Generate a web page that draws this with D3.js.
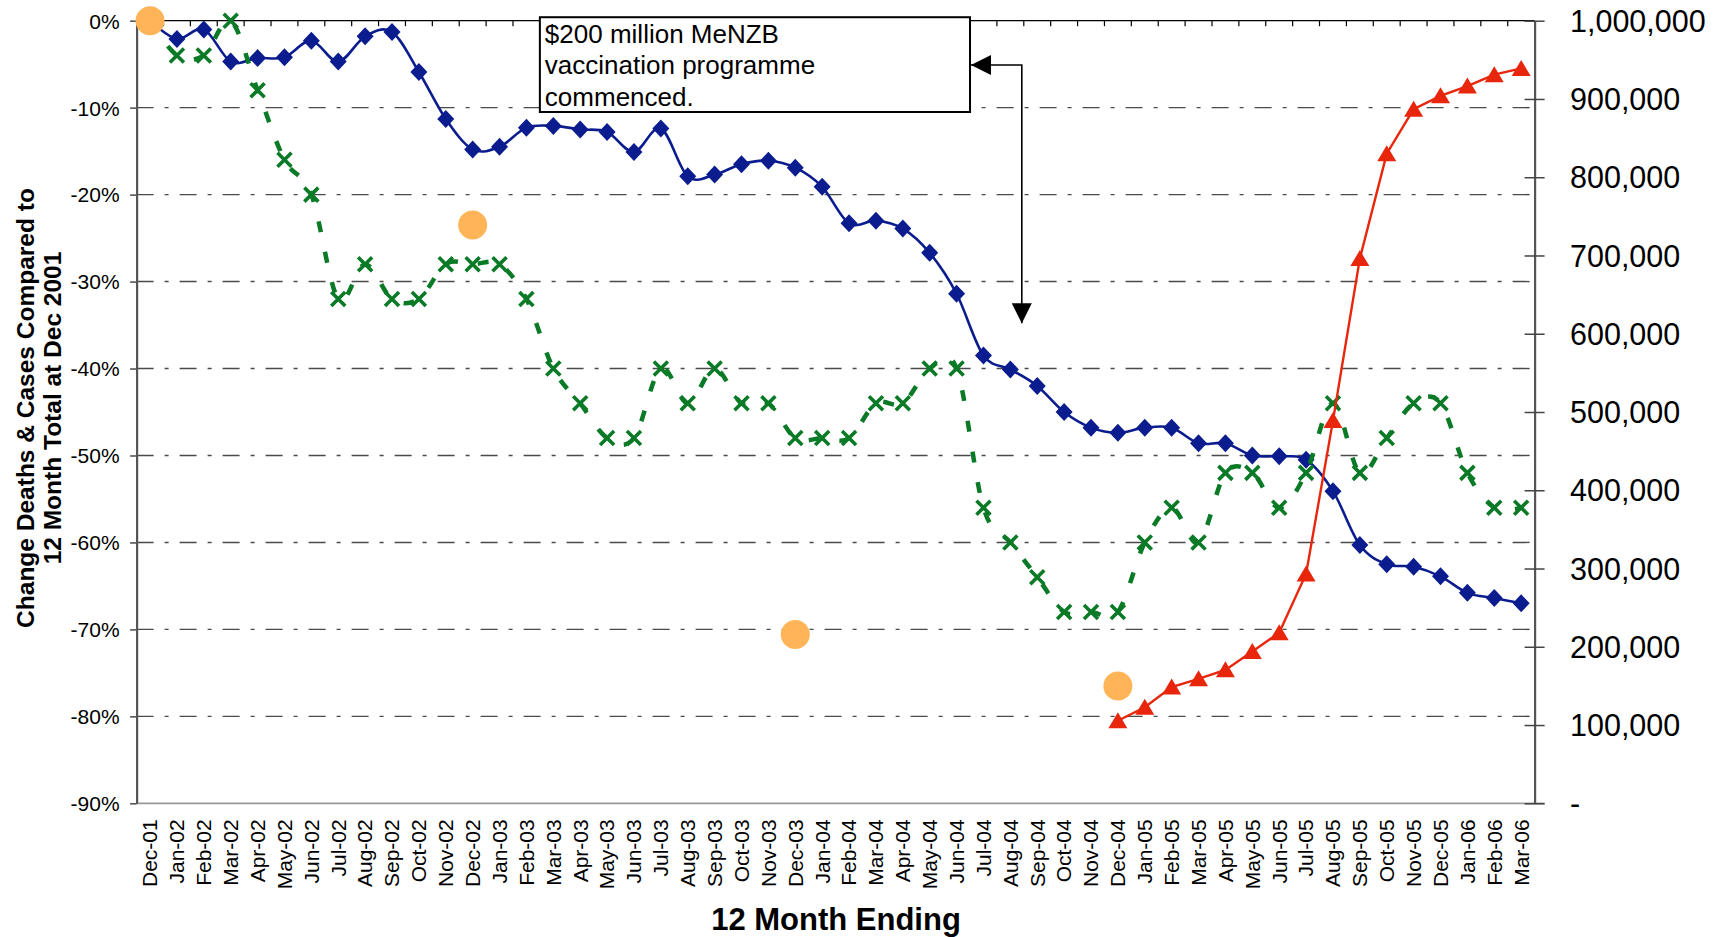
<!DOCTYPE html>
<html><head><meta charset="utf-8">
<script src="https://cdn.jsdelivr.net/npm/d3@7"></script>
<style>
body{margin:0;background:#fff;}
svg{display:block;font-family:"Liberation Sans",Arial,Helvetica,sans-serif;}
</style>
</head><body>
<svg id="chart" width="1719" height="937"></svg>
<script>
// ---------------- DATA ----------------
const categories = ["Dec-01","Jan-02","Feb-02","Mar-02","Apr-02","May-02","Jun-02","Jul-02","Aug-02","Sep-02","Oct-02","Nov-02",
  "Dec-02","Jan-03","Feb-03","Mar-03","Apr-03","May-03","Jun-03","Jul-03","Aug-03","Sep-03","Oct-03","Nov-03",
  "Dec-03","Jan-04","Feb-04","Mar-04","Apr-04","May-04","Jun-04","Jul-04","Aug-04","Sep-04","Oct-04","Nov-04",
  "Dec-04","Jan-05","Feb-05","Mar-05","Apr-05","May-05","Jun-05","Jul-05","Aug-05","Sep-05","Oct-05","Nov-05",
  "Dec-05","Jan-06","Feb-06","Mar-06"];

// change in cases vs Dec 2001 (%), blue diamonds
const casesChange = [0,-2.1,-1.0,-4.7,-4.3,-4.2,-2.3,-4.7,-1.8,-1.3,-5.9,-11.3,
  -14.8,-14.5,-12.3,-12.1,-12.5,-12.8,-15.1,-12.4,-17.9,-17.7,-16.5,-16.1,
  -16.9,-19.1,-23.3,-23.0,-23.9,-26.7,-31.4,-38.5,-40.1,-42.0,-45.0,-46.8,
  -47.4,-46.8,-46.8,-48.6,-48.6,-50.0,-50.1,-50.5,-54.1,-60.3,-62.5,-62.8,
  -63.9,-65.8,-66.4,-67.0];

// change in deaths vs Dec 2001 (%), green crosses
const deathsChange = [0,-4,-4,0,-8,-16,-20,-32,-28,-32,-32,-28,
  -28,-28,-32,-40,-44,-48,-48,-40,-44,-40,-44,-44,
  -48,-48,-48,-44,-44,-40,-40,-56,-60,-64,-68,-68,
  -68,-60,-56,-60,-52,-52,-56,-52,-44,-52,-48,-44,
  -44,-52,-56,-56];

// people vaccinated (right axis), red triangles
const vaccinated = [null,null,null,null,null,null,null,null,null,null,null,null,
  null,null,null,null,null,null,null,null,null,null,null,null,
  null,null,null,null,null,null,null,null,null,null,null,null,
  105500,122700,148500,159000,170500,194000,218000,293000,489000,696000,830000,887000,
  904000,916500,931000,939000];

// year-end highlight points (%), orange circles
const yearEndPoints = [0,null,null,null,null,null,null,null,null,null,null,null,
  -23.5,null,null,null,null,null,null,null,null,null,null,null,
  -70.6,null,null,null,null,null,null,null,null,null,null,null,
  -76.5,null,null,null,null,null,null,null,null,null,null,null,
  null,null,null,null];

const leftTicks = [0,-10,-20,-30,-40,-50,-60,-70,-80,-90];
const rightTicks = [0,100000,200000,300000,400000,500000,600000,700000,800000,900000,1000000];
const annotationLines = ["$200 million MeNZB","vaccination programme","commenced."];
const yTitleLines = ["Change Deaths & Cases Compared to","12 Month Total at Dec 2001"];
const xTitle = "12 Month Ending";

// annotation placement in data units
const annBoxFrom = "Mar-03", annBoxTo = "Jul-04", annBoxTop = 0.4, annBoxBottom = -10.5;
const annArrowAt = "Sep-04", annArrowY = -5.1, annArrowTip = -34.8;

// ---------------- LAYOUT ----------------
const svg = d3.select("#chart");
const m = {left:136.6, right:1534.6, top:20.7, bottom:803.3};

const x = d3.scaleBand().domain(categories).range([m.left, m.right]).padding(0);
const xc = c => x(c) + x.bandwidth()/2;
const yL = d3.scaleLinear().domain([-90, 0]).range([m.bottom, m.top]);
const yR = d3.scaleLinear().domain([0, 1000000]).range([m.bottom, m.top]);

const defs = svg.append("defs");
defs.append("marker").attr("id","ah")
  .attr("viewBox","0 0 20 20").attr("refX",20).attr("refY",10)
  .attr("markerWidth",20).attr("markerHeight",20)
  .attr("markerUnits","userSpaceOnUse").attr("orient","auto-start-reverse")
  .append("path").attr("d","M0,0 L20,10 L0,20 Z").attr("fill","#000");

// gridlines
svg.append("g").selectAll("line")
  .data(leftTicks.filter(t => t !== 0 && t !== -90))
  .join("line")
  .attr("x1", m.left).attr("x2", m.right)
  .attr("y1", d => yL(d)).attr("y2", d => yL(d))
  .attr("stroke","#4a4a4a").attr("stroke-width",1.4)
  .attr("stroke-dasharray","17,11,4,11");

// top border with inward ticks at category boundaries
const topG = svg.append("g");
topG.append("line").attr("x1",m.left).attr("x2",m.right).attr("y1",m.top).attr("y2",m.top)
  .attr("stroke","#000").attr("stroke-width",1.3);
topG.selectAll("line.tk").data(categories.slice(1)).join("line").attr("class","tk")
  .attr("x1", d => x(d)).attr("x2", d => x(d))
  .attr("y1", m.top).attr("y2", m.top + 5.5)
  .attr("stroke","#000").attr("stroke-width",1.2);

// bottom axis
const xAxis = svg.append("g").attr("transform",`translate(0,${m.bottom})`)
  .call(d3.axisBottom(x).tickSize(0).tickSizeOuter(0));
xAxis.select(".domain").remove();
xAxis.append("line").attr("x1",m.left).attr("x2",m.right+10).attr("y1",0).attr("y2",0)
  .attr("stroke","#999").attr("stroke-width",1.8);
xAxis.selectAll(".tick text")
  .attr("transform","rotate(-90)")
  .attr("x",-16).attr("y",0).attr("dy","0.35em")
  .attr("text-anchor","end")
  .attr("font-size",21).attr("fill","#000")
  .attr("font-family","'Liberation Sans',Arial,sans-serif");

// left axis
const yAxisL = svg.append("g").attr("transform",`translate(${m.left},0)`)
  .call(d3.axisLeft(yL).tickValues(leftTicks).tickSize(6.5).tickSizeOuter(0).tickPadding(10.5)
    .tickFormat(d => d + "%"));
yAxisL.select(".domain").attr("stroke","#555").attr("stroke-width",2.2);
yAxisL.selectAll(".tick line").attr("stroke","#555").attr("stroke-width",1.6);
yAxisL.selectAll(".tick text").attr("font-size",21).attr("fill","#000")
  .attr("font-family","'Liberation Sans',Arial,sans-serif").attr("dy","0.35em");

// right axis
const yAxisR = svg.append("g").attr("transform",`translate(${m.right},0)`)
  .call(d3.axisRight(yR).tickValues(rightTicks).tickSize(10).tickSizeOuter(0).tickPadding(25.4)
    .tickFormat(d => d === 0 ? "-" : d3.format(",")(d)));
yAxisR.select(".domain").attr("stroke","#555").attr("stroke-width",2.2);
yAxisR.selectAll(".tick line").attr("x1",-10).attr("stroke","#444").attr("stroke-width",1.5);
yAxisR.selectAll(".tick text").attr("font-size",30.5).attr("fill","#000")
  .attr("font-family","'Liberation Sans',Arial,sans-serif").attr("dy","0.35em");

// axis titles
const yt = svg.append("g").attr("font-weight","bold").attr("font-size",24.5).attr("fill","#000");
yTitleLines.forEach((t,i) => {
  yt.append("text").attr("transform",`translate(${34 + i*27},408) rotate(-90)`)
    .attr("text-anchor","middle").text(t);
});
svg.append("text").attr("x",836).attr("y",930).attr("text-anchor","middle")
  .attr("font-weight","bold").attr("font-size",31).attr("fill","#000").text(xTitle);

// annotation box
const bx0 = x(annBoxFrom), bx1 = x(annBoxTo), by0 = yL(annBoxTop), by1 = yL(annBoxBottom);
svg.append("rect").attr("x",bx0).attr("y",by0).attr("width",bx1-bx0).attr("height",by1-by0)
  .attr("fill","#fff").attr("stroke","#000").attr("stroke-width",2);
const annT = svg.append("g").attr("font-size",26).attr("fill","#000");
annotationLines.forEach((t,i) => {
  annT.append("text").attr("x",bx0+5).attr("y",by0+25.5+i*31.7).text(t);
});
const ax = x(annArrowAt) - 2;
svg.append("path")
  .attr("d",`M${bx1+1},${yL(annArrowY)} L${ax},${yL(annArrowY)} L${ax},${yL(annArrowTip)}`)
  .attr("fill","none").attr("stroke","#000").attr("stroke-width",1.6)
  .attr("marker-start","url(#ah)").attr("marker-end","url(#ah)");

// ---------------- SERIES ----------------
const smooth = d3.curveCatmullRom.alpha(0);
const lineL = d3.line().defined(d => d != null)
  .x((d,i) => xc(categories[i])).y(d => yL(d)).curve(smooth);

// cases (blue)
svg.append("path").attr("d", lineL(casesChange))
  .attr("fill","none").attr("stroke","#0b1d8e").attr("stroke-width",2.6);
const diamond = "M0,-9 L8.5,0 L0,9 L-8.5,0 Z";
svg.append("g").selectAll("path").data(casesChange).join("path")
  .attr("d",diamond)
  .attr("transform",(d,i) => `translate(${xc(categories[i])},${yL(d)})`)
  .attr("fill","#0b1d8e");

// deaths (green)
svg.append("path").attr("d", lineL(deathsChange))
  .attr("fill","none").attr("stroke","#0a7a26").attr("stroke-width",4.5)
  .attr("stroke-dasharray","11,20");
svg.append("g").selectAll("path").data(deathsChange).join("path")
  .attr("d","M-7,-7 L7,7 M-7,7 L7,-7")
  .attr("transform",(d,i) => `translate(${xc(categories[i])},${yL(d)})`)
  .attr("stroke","#0a7a26").attr("stroke-width",3.6).attr("fill","none");

// year-end points (orange)
svg.append("g").selectAll("circle")
  .data(yearEndPoints.map((v,i) => ({v, c: categories[i]})).filter(d => d.v != null))
  .join("circle")
  .attr("cx", d => xc(d.c)).attr("cy", d => yL(d.v)).attr("r",14.5)
  .attr("fill","#ffb457");

// vaccinated (red, right axis)
const lineR = d3.line().defined(d => d != null)
  .x((d,i) => xc(categories[i])).y(d => yR(d));
svg.append("path").attr("d", lineR(vaccinated))
  .attr("fill","none").attr("stroke","#e8260c").attr("stroke-width",2.4);
const tri = "M0,-8.5 L9.5,7.5 L-9.5,7.5 Z";
svg.append("g").selectAll("path")
  .data(vaccinated.map((v,i) => ({v, c: categories[i]})).filter(d => d.v != null))
  .join("path").attr("d",tri)
  .attr("transform", d => `translate(${xc(d.c)},${yR(d.v)})`)
  .attr("fill","#e8260c");
</script>
</body></html>
